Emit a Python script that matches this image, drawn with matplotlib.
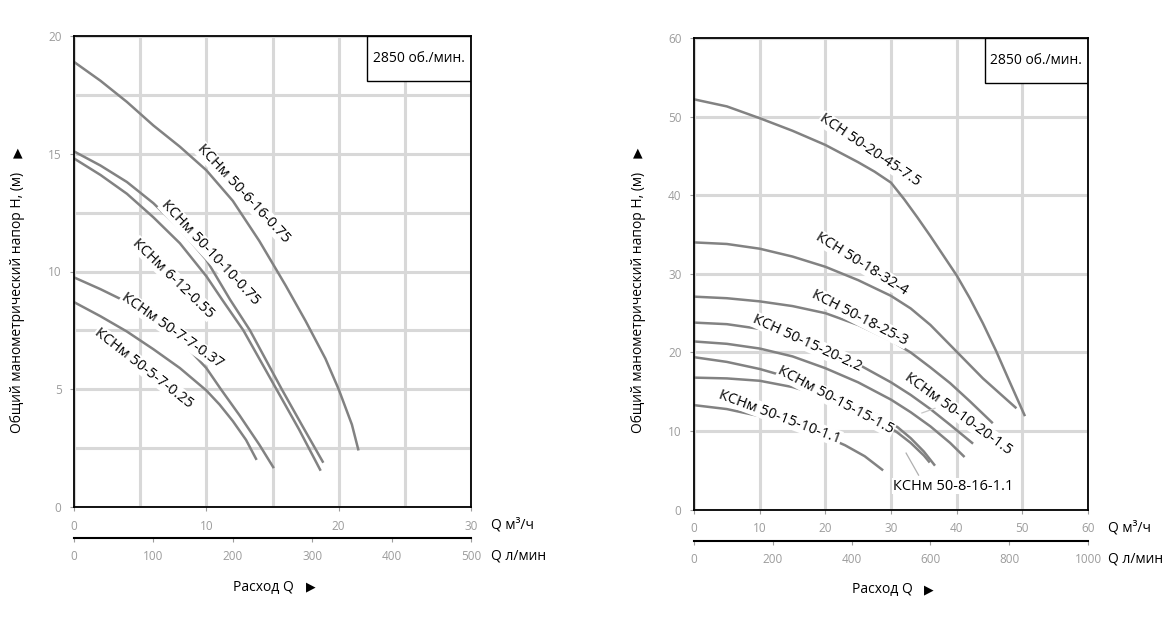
import matplotlib
matplotlib.use('Agg')
import matplotlib.pyplot as plt
from matplotlib.patches import Rectangle
from matplotlib.ticker import MultipleLocator

plt.rcParams['font.family'] = ['Open Sans', 'DejaVu Sans']

# ---- left chart data (Q m3/h, H m) ----
l1_q = [0, 2, 4, 6, 8, 10, 12, 14, 16, 17.5, 19, 20, 21, 21.5]
l1_h = [18.9, 18.1, 17.2, 16.2, 15.3, 14.3, 13.0, 11.3, 9.4, 7.9, 6.3, 5.0, 3.5, 2.4]
l2_q = [0, 2, 4, 6, 8, 10, 11.8, 13.3, 15.7, 17.3, 18.84]
l2_h = [15.1, 14.5, 13.8, 12.9, 11.8, 10.5, 8.8, 7.5, 5.0, 3.4, 1.88]
l3_q = [0, 2, 4, 6, 8, 10, 11.2, 12.8, 15.3, 17, 18.64]
l3_h = [14.8, 14.1, 13.3, 12.3, 11.2, 9.8, 8.8, 7.5, 5.0, 3.3, 1.54]
l4_q = [0, 2, 4, 6, 8, 10, 11.1, 12.5, 14, 15.1]
l4_h = [9.75, 9.25, 8.7, 8.0, 7.1, 5.9, 5.0, 3.9, 2.65, 1.65]
l5_q = [0, 2, 4, 6, 8, 10, 11, 12, 13, 13.8]
l5_h = [8.7, 8.1, 7.45, 6.7, 5.9, 4.95, 4.35, 3.65, 2.85, 2.0]
left_names = ['КСНм 50-6-16-0.75', 'КСНм 50-10-10-0.75', 'КСНм 6-12-0.55',
              'КСНм 50-7-7-0.37', 'КСНм 50-5-7-0.25']

# ---- right chart data ----
r1_q = [0, 5, 10, 15, 20, 25, 27.5, 30, 32, 34, 36, 38, 40, 42, 44, 46, 48, 50.4]
r1_h = [52.2, 51.3, 49.8, 48.2, 46.4, 44.2, 43.0, 41.6, 39.5, 37.2, 34.8, 32.3,
        29.8, 26.9, 23.7, 20.2, 16.4, 11.9]
r2_q = [0, 5, 10, 15, 20, 25, 30, 33, 36, 40, 44, 49.1]
r2_h = [34.0, 33.8, 33.2, 32.2, 30.9, 29.2, 27.2, 25.6, 23.5, 20.1, 16.7, 12.9]
r3_q = [0, 5, 10, 15, 20, 25, 30, 33, 36, 39, 42, 45.5]
r3_h = [27.1, 26.9, 26.5, 25.9, 25.0, 23.5, 21.5, 20.0, 18.1, 16.1, 13.8, 11.0]
r4_q = [0, 5, 10, 15, 20, 25, 30, 33, 36, 39, 42.5]
r4_h = [23.8, 23.6, 23.0, 21.9, 20.4, 18.5, 16.2, 14.6, 12.8, 10.8, 8.4]
r5_q = [0, 5, 10, 15, 20, 25, 30, 33, 36, 39, 41.2]
r5_h = [21.4, 21.1, 20.5, 19.5, 18.0, 16.2, 14.0, 12.4, 10.6, 8.5, 6.7]
r6_q = [0, 5, 10, 15, 20, 25, 28, 31, 33, 35, 36.7]
r6_h = [19.4, 18.8, 17.9, 16.7, 15.1, 13.3, 12.0, 10.5, 9.1, 7.4, 5.6]
r7_q = [0, 5, 10, 15, 20, 25, 28, 31, 33, 35, 35.9]
r7_h = [16.8, 16.7, 16.4, 15.6, 14.4, 12.8, 11.5, 9.8, 8.5, 6.9, 6.0]
r8_q = [0, 5, 10, 15, 20, 23, 26, 28.8]
r8_h = [13.3, 12.8, 11.9, 10.8, 9.3, 8.2, 6.8, 5.0]
right_names = ['КСН 50-20-45-7.5', 'КСН 50-18-32-4', 'КСН 50-18-25-3',
               'КСН 50-15-20-2.2', 'КСНм 50-10-20-1.5', 'КСНм 50-15-15-1.5',
               'КСНм 50-8-16-1.1', 'КСНм 50-15-10-1.1']

# label placement: (Q, H, rotation)
left_lab = [(12.8, 13.3, -47), (10.3, 10.8, -47), (7.5, 9.7, -44),
            (7.4, 7.5, -35), (5.3, 5.9, -38)]
right_lab = [(26.8, 45.7, -34), (25.6, 31.2, -32), (25.3, 24.4, -27),
             (17.2, 21.2, -24.5), (40.3, 12.2, -36), (21.6, 13.9, -28),
             (39.4, 3.0, 0), (13.1, 11.8, -20.5)]

CURVE = '#828282'
GRID = '#d8d8d8'
TICK = '#9c9c9c'

fig = plt.figure(figsize=(11.73, 6.3), dpi=100)


def panel(rect, qs, hs, names, labs, xmax, ymax, xmaj, ygrid, lmin_step, ylab_x):
    ax = fig.add_axes(rect)
    ax.set_xlim(0, xmax)
    ax.set_ylim(0, ymax)
    ax.set_xticks(range(0, xmax + 1, xmaj))
    ax.set_yticks(range(0, ymax + 1, ymax // 4 if ymax == 20 else 10))
    ax.xaxis.set_minor_locator(MultipleLocator(xmax / 6))
    ax.yaxis.set_minor_locator(MultipleLocator(ygrid))
    ax.grid(True, which='both', color=GRID, lw=2.2, zorder=0)
    ax.set_axisbelow(True)
    ax.tick_params(which='major', length=3, width=0.8, color=TICK,
                   labelcolor=TICK, labelsize=8.5, pad=6)
    ax.tick_params(which='minor', length=0)
    for s in ax.spines.values():
        s.set_linewidth(1.3)
        s.set_color('black')
        s.set_zorder(6)
    for q, h in zip(qs, hs):
        ax.plot(q, h, color=CURVE, lw=1.8, zorder=2, solid_capstyle='butt',
                solid_joinstyle='round')
    for name, (x, y, r) in zip(names, labs):
        ax.text(x, y, name, rotation=r, ha='center', va='center', fontsize=10.5,
                rotation_mode='anchor', zorder=4,
                bbox=dict(fc='white', ec='none', pad=0.5))
    # rpm box
    ax.add_patch(Rectangle((0.738, 0.904), 0.262, 0.096, transform=ax.transAxes,
                           fc='white', ec='black', lw=1.0, zorder=5))
    ax.text(0.869, 0.952, '2850 об./мин.', transform=ax.transAxes,
            ha='center', va='center', fontsize=10, zorder=6)
    # second flow scale in l/min
    sec = ax.secondary_xaxis(-31 / (rect[3] * 630),
                             functions=(lambda v: v * 1000 / 60,
                                        lambda v: v * 60 / 1000))
    sec.set_xticks(range(0, int(xmax * 1000 / 60) + 1, lmin_step))
    sec.spines['bottom'].set_linewidth(1.5)
    sec.tick_params(length=3, width=0.8, color=TICK, labelcolor=TICK,
                    labelsize=8.5, pad=6)
    x1 = rect[0] + rect[2]
    y0 = rect[1]
    fig.text(x1 + 20 / 1173, y0 - 18 / 630, 'Q м³/ч', fontsize=10,
             ha='left', va='center')
    fig.text(x1 + 20 / 1173, y0 - 49 / 630, 'Q л/мин', fontsize=10,
             ha='left', va='center')
    cx = rect[0] + 0.5 * rect[2]
    fig.text(cx - 9 / 1173, y0 - 80 / 630, 'Расход Q', fontsize=10,
             ha='center', va='center')
    fig.text(cx + 38 / 1173, y0 - 80 / 630, '▶', fontsize=9,
             ha='center', va='center')
    fig.text(ylab_x / 1173, 1 - 302 / 630, 'Общий манометрический напор H, (м)',
             rotation=90, fontsize=10, ha='center', va='center')
    fig.text(ylab_x / 1173, 1 - 153 / 630, '▲', rotation=0, fontsize=9,
             ha='center', va='center')
    return ax


axl = panel([74 / 1173, 1 - 507 / 630, 397 / 1173, 471 / 630],
            [l1_q, l2_q, l3_q, l4_q, l5_q], [l1_h, l2_h, l3_h, l4_h, l5_h],
            left_names, left_lab, 30, 20, 10, 2.5, 100, 18)

axr = panel([694 / 1173, 1 - 509.7 / 630, 394 / 1173, 471.7 / 630],
            [r1_q, r2_q, r3_q, r4_q, r5_q, r6_q, r7_q, r8_q],
            [r1_h, r2_h, r3_h, r4_h, r5_h, r6_h, r7_h, r8_h],
            right_names, right_lab, 60, 60, 10, 10, 200, 638)

# leader lines on the right chart
axr.plot([34.2, 32.3], [4.4, 7.2], color='#b0b0b0', lw=0.9, zorder=3)
axr.plot([34.7, 36.7], [12.3, 12.9], color='#c8c8c8', lw=0.9, zorder=3)

fig.savefig('out.png', dpi=100)
